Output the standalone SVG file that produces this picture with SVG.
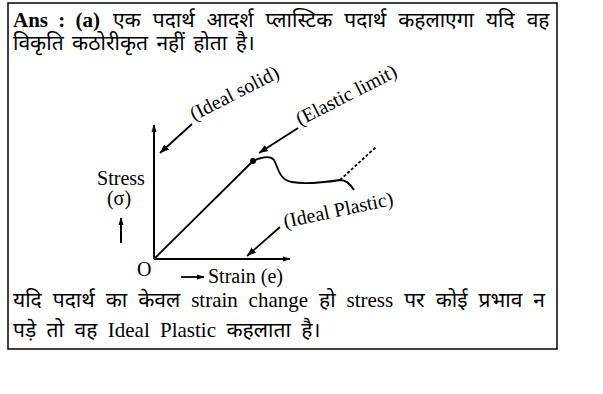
<svg xmlns="http://www.w3.org/2000/svg" width="603" height="394" viewBox="0 0 603 394">
<style>
.lat{font-family:"Liberation Serif","Times New Roman",serif;font-size:21px;fill:#000}
.hin{font-family:"Noto Sans Devanagari","Lohit Devanagari","Noto Sans",sans-serif;font-size:21px;fill:#000}
.g{font-family:"Liberation Serif","Times New Roman",serif;font-size:20px;fill:#000}
.ax{stroke:#000;stroke-width:2;fill:none}
.ln{stroke:#000;stroke-width:1.8;fill:none}
</style>
<defs>
<marker id="ah" markerWidth="10" markerHeight="10" refX="9" refY="5" orient="auto" markerUnits="userSpaceOnUse">
<path d="M0,1.5 L9,5 L0,8.5 Z" fill="#000"/>
</marker>
<marker id="axh" markerWidth="8" markerHeight="8" refX="7" refY="4" orient="auto" markerUnits="userSpaceOnUse">
<path d="M0,1.5 L8,4 L0,6.5 Z" fill="#000"/>
</marker>
</defs>
<rect x="8" y="3" width="549" height="346" fill="#fff" stroke="#000" stroke-width="1.5"/>
<g id="header">
<text class="lat" x="13" y="27" font-weight="bold" word-spacing="5">Ans : (a)</text>
<text class="hin" x="113" y="27" word-spacing="6.5">एक पदार्थ आदर्श प्लास्टिक पदार्थ कहलाएगा यदि वह</text>
<text class="hin" x="13" y="50" word-spacing="3">विकृति कठोरीकृत नहीं होता है।</text>
</g>
<g id="graph">
<g id="axes">
<line class="ax" x1="154" y1="259" x2="154" y2="125" marker-end="url(#axh)"/>
<line class="ax" x1="154" y1="259" x2="290" y2="259" marker-end="url(#axh)"/>
<line class="ln" x1="154" y1="259" x2="253" y2="161"/>
<circle cx="253" cy="161" r="3" fill="#000"/>
<path class="ln" d="M253,161 C262,157 270,155 274,160 C278,167 279,180 292,182 C307,185 327,182 340,180 C347,180 351,185 354,190"/>
<path class="ln" d="M340,180 L376,147" stroke-dasharray="3,2"/>
</g>
<g id="connectors">
<line class="ln" x1="192" y1="124" x2="160" y2="153" marker-end="url(#ah)"/>
<line class="ln" x1="298" y1="128" x2="259" y2="153" marker-end="url(#ah)"/>
<line class="ln" x1="280" y1="227" x2="247" y2="256" marker-end="url(#ah)"/>
<line class="ax" x1="121" y1="243" x2="121" y2="218" stroke-width="2.5" marker-end="url(#axh)"/>
<line class="ln" x1="181" y1="277" x2="204" y2="277" marker-end="url(#axh)"/>
</g>
<g id="label-ideal-solid"><text class="g" transform="translate(194,121) rotate(-27)">(Ideal solid)</text></g>
<g id="label-elastic-limit"><text class="g" transform="translate(300,126) rotate(-27)">(Elastic limit)</text></g>
<g id="label-ideal-plastic"><text class="g" font-size="21" transform="translate(285,228) rotate(-12)">(Ideal Plastic)</text></g>
<g id="label-stress"><text class="g" x="121" y="185" text-anchor="middle">Stress</text><text class="g" x="119" y="205" text-anchor="middle">(σ)</text></g>
<text class="g" x="137" y="276">O</text>
<text class="g" x="208" y="283">Strain (e)</text>
</g>
<g id="footer">
<text x="13" y="307" word-spacing="5.5"><tspan class="hin">यदि पदार्थ का केवल </tspan><tspan class="lat">strain change</tspan><tspan class="hin"> हो </tspan><tspan class="lat">stress</tspan><tspan class="hin"> पर कोई प्रभाव न</tspan></text>
<text x="13" y="337" word-spacing="5"><tspan class="hin">पड़े तो वह </tspan><tspan class="lat">Ideal Plastic</tspan><tspan class="hin"> कहलाता है।</tspan></text>
</g>
</svg>
